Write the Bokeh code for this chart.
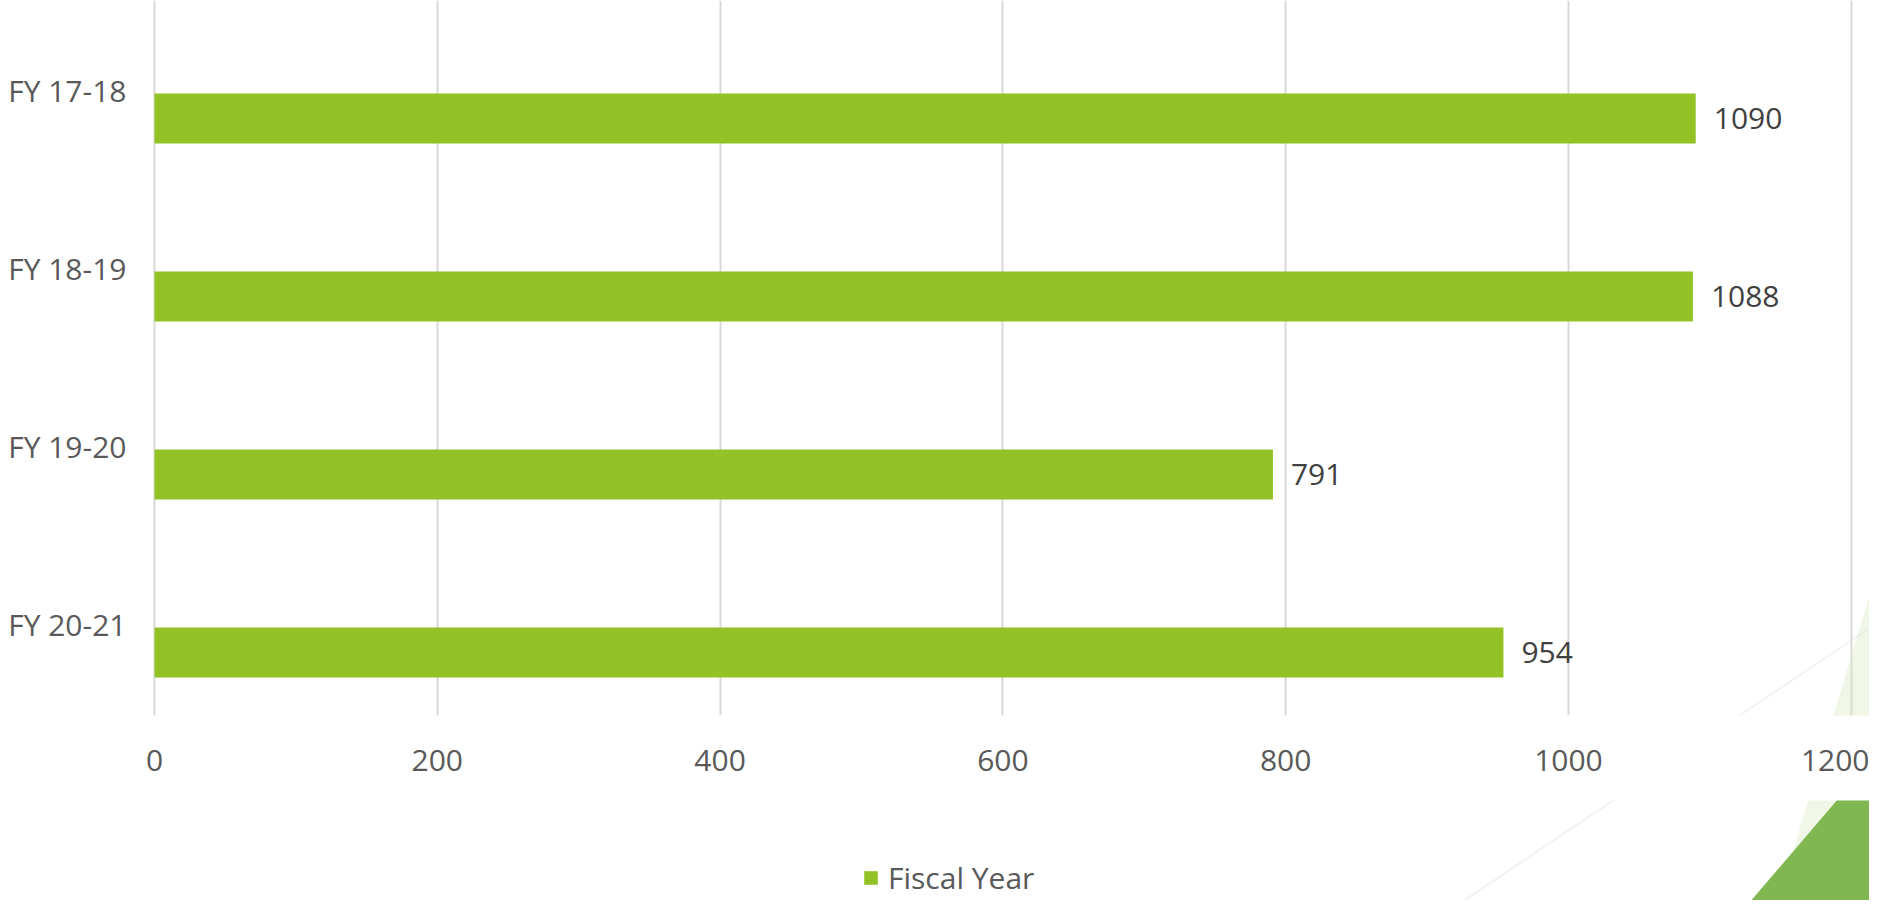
from bokeh.plotting import figure
from bokeh.layouts import column
from bokeh.models import (Range1d, FixedTicker, ColumnDataSource, Legend, LegendItem,
                          PolyAnnotation)
from bokeh.embed import file_html
from bokeh.resources import INLINE
from bokeh.core.properties import value

# ---- data ----
categories = ["FY 17-18", "FY 18-19", "FY 19-20", "FY 20-21"]
counts = [1090, 1088, 791, 954]
x_ticks = [0, 200, 400, 600, 800, 1000, 1200]
series_name = "Fiscal Year"

FONT = "Open Sans"
BAR = "#92C226"
LIGHT = "#DDEBC3"
DARK = "#79B348"
LINE = "#D3D3D3"

idx = list(range(len(categories)))
bar_pos = [i + 0.157 for i in idx]

src = ColumnDataSource(dict(pos=bar_pos, val=counts, txt=[str(c) for c in counts]))

W, H1, H2 = 1869, 800, 100


def decorations(fig, dy):
    """slide background shapes, in canvas pixels (dy = vertical offset of this canvas)"""
    fig.add_layout(PolyAnnotation(xs=[1885, 1773, 1885], ys=[541 - dy, 916 - dy, 916 - dy],
                                  xs_units="canvas", ys_units="canvas",
                                  fill_color=LIGHT, line_color=None, level="underlay"))
    fig.add_layout(PolyAnnotation(xs=[1885, 1737, 1885], ys=[743 - dy, 916 - dy, 916 - dy],
                                  xs_units="canvas", ys_units="canvas",
                                  fill_color=DARK, fill_alpha=0.95, line_color=None,
                                  level="underlay"))
    fig.add_layout(PolyAnnotation(xs=[1440, 1885], ys=[916 - dy, 617 - dy],
                                  xs_units="canvas", ys_units="canvas",
                                  fill_alpha=0, line_color=LINE, line_width=2,
                                  level="underlay"))


# ---- main chart ----
p = figure(width=W, height=H1, output_backend="svg", toolbar_location=None,
           x_range=Range1d(-1.41, 1212.9), y_range=Range1d(3.511, -0.5056),
           min_border_left=152, min_border_right=0, min_border_top=0,
           min_border_bottom=H1 - 715)
p.outline_line_color = None
p.background_fill_color = "white"
p.border_fill_color = "white"
decorations(p, 0)

bars = p.hbar(y="pos", left=0, right="val", height=0.281, source=src,
              fill_color=BAR, line_color=None)

p.text(x="val", y="pos", text="txt", source=src, x_offset=18,
       text_align="left", text_baseline="middle",
       text_font=value(FONT), text_font_size="30px", text_color="#404040")

p.xaxis.ticker = FixedTicker(ticks=x_ticks)
p.xaxis.axis_line_color = None
p.xaxis.major_tick_line_color = None
p.xaxis.minor_tick_line_color = None
p.xaxis.major_label_text_font = FONT
p.xaxis.major_label_text_font_size = "30px"
p.xaxis.major_label_text_color = "#595959"
p.xaxis.major_label_standoff = 28

p.yaxis.ticker = FixedTicker(ticks=idx)
p.yaxis.major_label_overrides = {i: c for i, c in zip(idx, categories)}
p.yaxis.axis_line_color = None
p.yaxis.major_tick_line_color = None
p.yaxis.minor_tick_line_color = None
p.yaxis.major_label_text_font = FONT
p.yaxis.major_label_text_font_size = "30px"
p.yaxis.major_label_text_color = "#595959"
p.yaxis.major_label_standoff = 20

p.xgrid.ticker = FixedTicker(ticks=x_ticks)
p.xgrid.grid_line_color = "#D9D9D9"
p.xgrid.grid_line_width = 2
p.ygrid.visible = False

# ---- legend strip ----
pl = figure(width=W, height=H2, output_backend="svg", toolbar_location=None,
            x_axis_type=None, y_axis_type=None,
            x_range=Range1d(0, 1), y_range=Range1d(0, 1),
            min_border=0, min_border_left=0, min_border_right=0,
            min_border_top=0, min_border_bottom=0)
pl.outline_line_color = None
pl.background_fill_color = "white"
pl.border_fill_color = "white"
decorations(pl, H1)

leg_r = pl.hbar(y="pos", left=0, right="val", height=0.281, source=src,
                fill_color=BAR, line_color=None, visible=False)

legend = Legend(items=[LegendItem(label=series_name, renderers=[leg_r])],
                location=(710, 2), orientation="horizontal",
                border_line_color=None, background_fill_alpha=0,
                padding=0, margin=0, glyph_width=17, glyph_height=17,
                label_standoff=9, label_text_font=FONT,
                label_text_font_size="30px", label_text_color="#595959")
pl.add_layout(legend)

layout = column(p, pl, spacing=0)
open("out.html", "w").write(file_html(layout, INLINE))
